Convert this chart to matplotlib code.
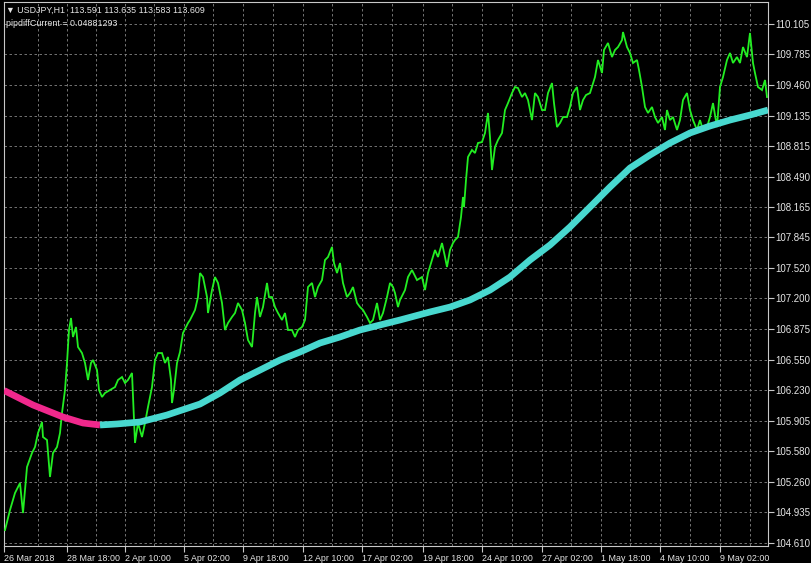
import matplotlib
matplotlib.use("Agg")
import matplotlib.pyplot as plt

# H1 close prices (bar index from the left edge)
price_bars = [
    1, 6, 11, 16, 19, 23, 28, 31, 34, 38,
    39, 43, 46, 49, 53, 56, 58, 61, 63, 65,
    67, 69, 72, 74, 78, 81, 84, 87, 89, 93,
    95, 98, 101, 106, 111, 114, 118, 121, 124, 128,
    129, 131, 134, 138, 141, 144, 148, 151, 154, 158,
    161, 164, 167, 168, 170, 173, 176, 179, 184, 186,
    191, 194, 196, 199, 203, 204, 208, 211, 214, 218,
    221, 224, 228, 231, 234, 238, 241, 244, 248, 251,
    253, 256, 259, 263, 265, 268, 271, 274, 278, 281,
    284, 288, 291, 294, 298, 301, 304, 308, 311, 314,
    318, 321, 324, 328, 330, 333, 336, 339, 343, 346,
    349, 353, 356, 359, 363, 366, 369, 373, 376, 379,
    383, 386, 389, 391, 394, 396, 401, 404, 408, 413,
    418, 421, 424, 428, 431, 434, 438, 441, 443, 446,
    449, 451, 454, 457, 459, 460, 462, 464, 468, 471,
    474, 478, 481, 484, 486, 488, 491, 494, 498, 501,
    504, 508, 511, 514, 518, 521, 524, 528, 531, 534,
    538, 541, 544, 548, 550, 553, 556, 559, 563, 566,
    569, 573, 576, 579, 582, 586, 591, 594, 598, 600,
    604, 608, 611, 614, 618, 619, 623, 626, 629, 633,
    635, 638, 641, 644, 648, 651, 654, 658, 661, 663,
    666, 669, 673, 676, 679, 683, 686, 689, 693, 696,
    699, 703, 706, 709, 713, 716, 719, 723, 726, 729,
    733, 736, 739, 743, 746, 749, 751, 754, 758, 761,
    763,
]
price_close = [
    104.747, 104.959, 105.139, 105.245, 104.927, 105.414, 105.563, 105.626, 105.774, 105.891,
    105.732, 105.700, 105.309, 105.563, 105.626, 105.774, 105.986, 106.230, 106.516, 106.865,
    106.992, 106.791, 106.897, 106.685, 106.621, 106.516, 106.336, 106.516, 106.547, 106.441,
    106.230, 106.156, 106.198, 106.230, 106.261, 106.336, 106.367, 106.304, 106.336, 106.410,
    106.156, 105.669, 105.880, 105.732, 105.880, 106.050, 106.261, 106.547, 106.621, 106.621,
    106.516, 106.579, 106.336, 106.092, 106.230, 106.516, 106.632, 106.833, 106.939, 106.971,
    107.077, 107.214, 107.468, 107.426, 107.214, 107.045, 107.288, 107.426, 107.363, 107.151,
    106.865, 106.939, 107.003, 107.045, 107.151, 107.077, 106.939, 106.759, 106.685, 107.045,
    107.214, 107.003, 107.108, 107.363, 107.214, 107.214, 107.108, 107.045, 106.971, 107.045,
    106.865, 106.865, 106.791, 106.865, 106.897, 106.971, 107.320, 107.363, 107.214, 107.320,
    107.394, 107.606, 107.638, 107.744, 107.574, 107.468, 107.574, 107.363, 107.214, 107.257,
    107.320, 107.151, 107.108, 107.077, 107.003, 106.939, 106.971, 107.151, 106.971, 107.045,
    107.214, 107.363, 107.320, 107.257, 107.108, 107.183, 107.288, 107.426, 107.500, 107.394,
    107.426, 107.288, 107.468, 107.606, 107.712, 107.638, 107.786, 107.638, 107.532, 107.712,
    107.786, 107.818, 107.850, 108.061, 108.273, 108.167, 108.453, 108.697, 108.771, 108.739,
    108.845, 108.855, 108.951, 109.163, 108.908, 108.559, 108.803, 108.877, 108.951, 109.194,
    109.268, 109.374, 109.438, 109.427, 109.332, 109.374, 109.300, 109.088, 109.374, 109.332,
    109.194, 109.194, 109.374, 109.480, 109.268, 109.014, 109.057, 109.120, 109.120, 109.226,
    109.374, 109.438, 109.194, 109.300, 109.353, 109.374, 109.544, 109.724, 109.586, 109.830,
    109.904, 109.755, 109.830, 109.861, 109.935, 110.020, 109.861, 109.798, 109.692, 109.724,
    109.618, 109.438, 109.226, 109.163, 109.226, 109.120, 109.057, 109.120, 108.983, 109.194,
    109.088, 109.120, 108.983, 109.088, 109.300, 109.374, 109.194, 109.088, 108.983, 109.088,
    108.983, 109.014, 109.120, 109.268, 109.014, 109.438, 109.544, 109.724, 109.798, 109.692,
    109.755, 109.692, 109.861, 109.755, 110.010, 109.692, 109.586, 109.438, 109.406, 109.512,
    109.332,
]

# slow moving average: falling part (pink) and rising part (turquoise)
ma_down_bars = [0, 29, 59, 79, 96]
ma_down_vals = [106.225, 106.071, 105.944, 105.880, 105.859]
ma_up_bars = [96, 113, 136, 163, 196, 216, 236, 256, 276, 296,
              316, 336, 356, 376, 396, 426, 446, 466, 486, 506,
              526, 546, 566, 586, 606, 626, 646, 666, 686, 706,
              726, 746, 764]
ma_up_vals = [105.859, 105.870, 105.891, 105.965, 106.081, 106.198, 106.336, 106.441, 106.547, 106.632,
              106.727, 106.791, 106.865, 106.918, 106.971, 107.056, 107.108, 107.183, 107.288, 107.426,
              107.606, 107.765, 107.956, 108.167, 108.379, 108.580, 108.718, 108.845, 108.951, 109.025,
              109.088, 109.141, 109.194]

price_ticks = [110.105, 109.785, 109.460, 109.135, 108.815, 108.490, 108.165, 107.845, 107.520,
               107.200, 106.875, 106.550, 106.230, 105.905, 105.580, 105.260, 104.935, 104.610]
time_tick_bars = [63, 121, 180, 239, 299, 358, 419, 478, 538, 597, 656, 716]
time_labels = ["28 Mar 18:00", "2 Apr 10:00", "5 Apr 02:00", "9 Apr 18:00", "12 Apr 10:00",
               "17 Apr 02:00", "19 Apr 18:00", "24 Apr 10:00", "27 Apr 02:00", "1 May 18:00",
               "4 May 10:00", "9 May 02:00"]
first_label = "26 Mar 2018"
header = "\u25bc USDJPY,H1  113.591 113.635 113.583 113.609"
indicator_line = "pipdiffCurrent = 0.04881293"

TEXT = "#e6e6e6"
GRID = "#858585"
FONT = "Liberation Sans"


def plot_chart(out_path="out.png"):
    """
    MT4 style H1 chart with price line and coloured moving average.
    """
    fig = plt.figure(figsize=(8.11, 5.63), dpi=100, facecolor="black")
    ax = fig.add_axes([4 / 811, 17 / 563, 764 / 811, 544 / 563], facecolor="black")

    ax.set_xlim(0, 764)
    ax.set_ylim(104.578, 110.338)

    # grid: every label tick plus the midpoints between them
    grid_x = [time_tick_bars[0] - (time_tick_bars[1] - time_tick_bars[0]) / 2]
    for a, b in zip(time_tick_bars[:-1], time_tick_bars[1:]):
        grid_x += [a, (a + b) / 2]
    grid_x += [time_tick_bars[-1], time_tick_bars[-1] + (time_tick_bars[-1] - time_tick_bars[-2]) / 2]
    for gx in grid_x:
        ax.axvline(gx, color=GRID, lw=0.6, ls=(0, (3, 3)), zorder=1)
    for gy in price_ticks:
        ax.axhline(gy, color=GRID, lw=0.6, ls=(0, (3, 3)), zorder=1)

    ax.plot(price_bars, price_close, color="#22ee22", lw=1.3,
            solid_joinstyle="miter", zorder=3)

    ax.plot(ma_down_bars, ma_down_vals, color="#f0288c", lw=4.8,
            solid_capstyle="butt", solid_joinstyle="round", zorder=4)
    ax.plot(ma_up_bars, ma_up_vals, color="#48d8cf", lw=4.8,
            solid_capstyle="butt", solid_joinstyle="round", zorder=4)

    # axes, ticks and labels
    ax.yaxis.tick_right()
    ax.set_yticks(price_ticks)
    ax.set_yticklabels([f"{v:.3f}" for v in price_ticks])
    ax.set_xticks([0] + time_tick_bars)
    ax.set_xticklabels([first_label] + time_labels)
    for lbl in ax.get_xticklabels():
        lbl.set_horizontalalignment("left")
    ax.tick_params(axis="both", colors="#c8c8c8", labelcolor=TEXT,
                   length=4, width=0.8, pad=2)
    ax.tick_params(axis="x", labelsize=6.4)
    ax.tick_params(axis="y", labelsize=7, pad=1)
    for lbl in ax.get_xticklabels() + ax.get_yticklabels():
        lbl.set_family(FONT)

    for side in ["left", "right", "bottom", "top"]:
        ax.spines[side].set_color("#c8c8c8")
        ax.spines[side].set_linewidth(0.8)

    ax.text(0.003, 0.993, header, transform=ax.transAxes, color=TEXT,
            fontsize=6.4, family=[FONT, "DejaVu Sans"], va="top", ha="left", zorder=6)
    ax.text(0.003, 0.968, indicator_line, transform=ax.transAxes, color=TEXT,
            fontsize=6.4, family=FONT, va="top", ha="left", zorder=6)

    fig.savefig(out_path, dpi=100, facecolor="black")
    plt.close(fig)


if __name__ == "__main__":
    plot_chart()
